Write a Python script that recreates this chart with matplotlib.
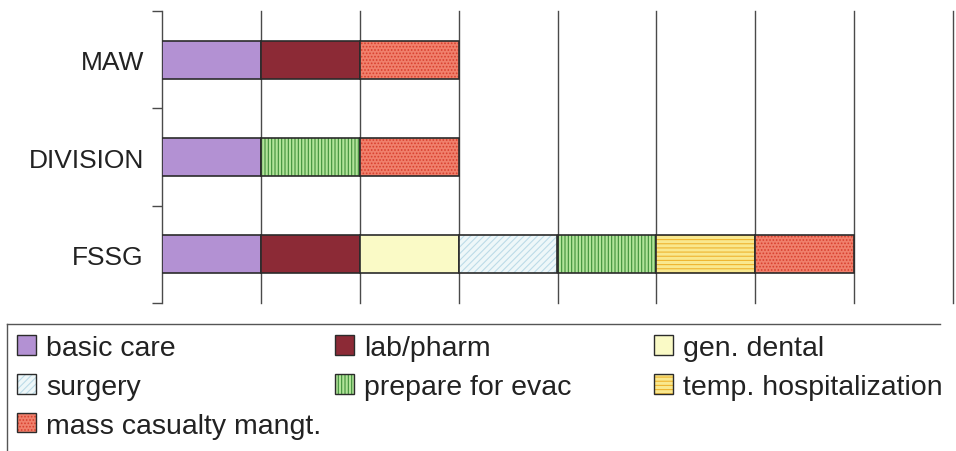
import matplotlib
matplotlib.use("Agg")
import matplotlib.pyplot as plt
from matplotlib.patches import Patch
from matplotlib.lines import Line2D

plt.rcParams['font.family'] = ['Liberation Sans', 'DejaVu Sans']
plt.rcParams['hatch.linewidth'] = 0.8

# units (bottom to top)
units = ["FSSG", "DIVISION", "MAW"]

# capability blocks held by each unit, same order as units
basic_care = [1, 1, 1]
lab_pharm = [1, 0, 1]
gen_dental = [1, 0, 0]
surgery = [1, 0, 0]
prepare_evac = [1, 1, 0]
temp_hosp = [1, 0, 0]
mass_casualty = [1, 1, 1]

series = [
    ("basic care", basic_care, "#b391d3", None, None),
    ("lab/pharm", lab_pharm, "#8c2a36", None, None),
    ("gen. dental", gen_dental, "#fafac6", None, None),
    ("surgery", surgery, "#eef7f9", "/////", "#bcdbe8"),
    ("prepare for evac", prepare_evac, "#b2e39a", "|||||", "#3f8f3a"),
    ("temp. hospitalization", temp_hosp, "#f9e88e", "----", "#eeb530"),
    ("mass casualty mangt.", mass_casualty, "#f0806c", ".....", "#d8402e"),
]

fig = plt.figure(figsize=(9.56, 4.52), dpi=100)
ax = fig.add_axes([162 / 956, 1 - 304 / 452, (953 - 162) / 956, (304 - 12) / 452])

edge = "#2b2b2b"
left = [0] * len(units)
handles = {}
for name, vals, face, hatch, hcol in series:
    for i, v in enumerate(vals):
        if v > 0:
            bar = ax.barh(i, v, left=left[i], height=0.39, color=face,
                          edgecolor=edge, linewidth=1.2, hatch=hatch, zorder=3)
            if hcol:
                for p in bar.patches:
                    p._hatch_color = matplotlib.colors.to_rgba(hcol)
        left[i] += v
    h = Patch(facecolor=face, edgecolor=edge, linewidth=1.0, hatch=hatch)
    if hcol:
        h._hatch_color = matplotlib.colors.to_rgba(hcol)
    handles[name] = h

ax.set_xlim(0, 8)
ax.set_ylim(-0.5, 2.5)
ax.set_xticks(range(1, 9))
ax.tick_params(axis="x", length=0, labelbottom=False)
ax.grid(axis="x", color="#4a4a4a", linewidth=1.0, zorder=1)
for gl in ax.get_xgridlines():
    gl.set_clip_on(False)

ax.set_yticks([-0.5, 0.5, 1.5, 2.5])
ax.set_yticklabels([])
ax.set_yticks([0, 1, 2], minor=True)
ax.set_yticklabels(units, minor=True, fontsize=19, color="#222222")
ax.tick_params(axis="y", which="major", length=7, width=1.0, color="#4a4a4a")
ax.tick_params(axis="y", which="minor", length=0, pad=13)

for s in ["top", "right", "bottom"]:
    ax.spines[s].set_visible(False)
ax.spines["left"].set_color("#4a4a4a")
ax.spines["left"].set_linewidth(1.0)

# legend laid out in three columns inside an open box
columns = [
    ["basic care", "surgery", "mass casualty mangt."],
    ["lab/pharm", "prepare for evac"],
    ["gen. dental", "temp. hospitalization"],
]
col_x = [17, 335, 654]
for xs, names in zip(col_x, columns):
    leg = fig.legend([handles[n] for n in names], names,
                     loc="upper left", bbox_to_anchor=(xs / 956, 1 - 336 / 452),
                     frameon=False, fontsize=20.5, borderpad=0, borderaxespad=0,
                     handlelength=0.68, handleheight=0.68, handletextpad=0.33,
                     labelspacing=0.45)
    for t in leg.get_texts():
        t.set_color("#222222")

fig.add_artist(Line2D([7 / 956, 940 / 956], [1 - 325 / 452] * 2,
                      transform=fig.transFigure, color="#555555", linewidth=1.0))
fig.add_artist(Line2D([7 / 956, 7 / 956], [1 - 325 / 452, 0],
                      transform=fig.transFigure, color="#555555", linewidth=1.0))

fig.savefig("out.png", dpi=100)
